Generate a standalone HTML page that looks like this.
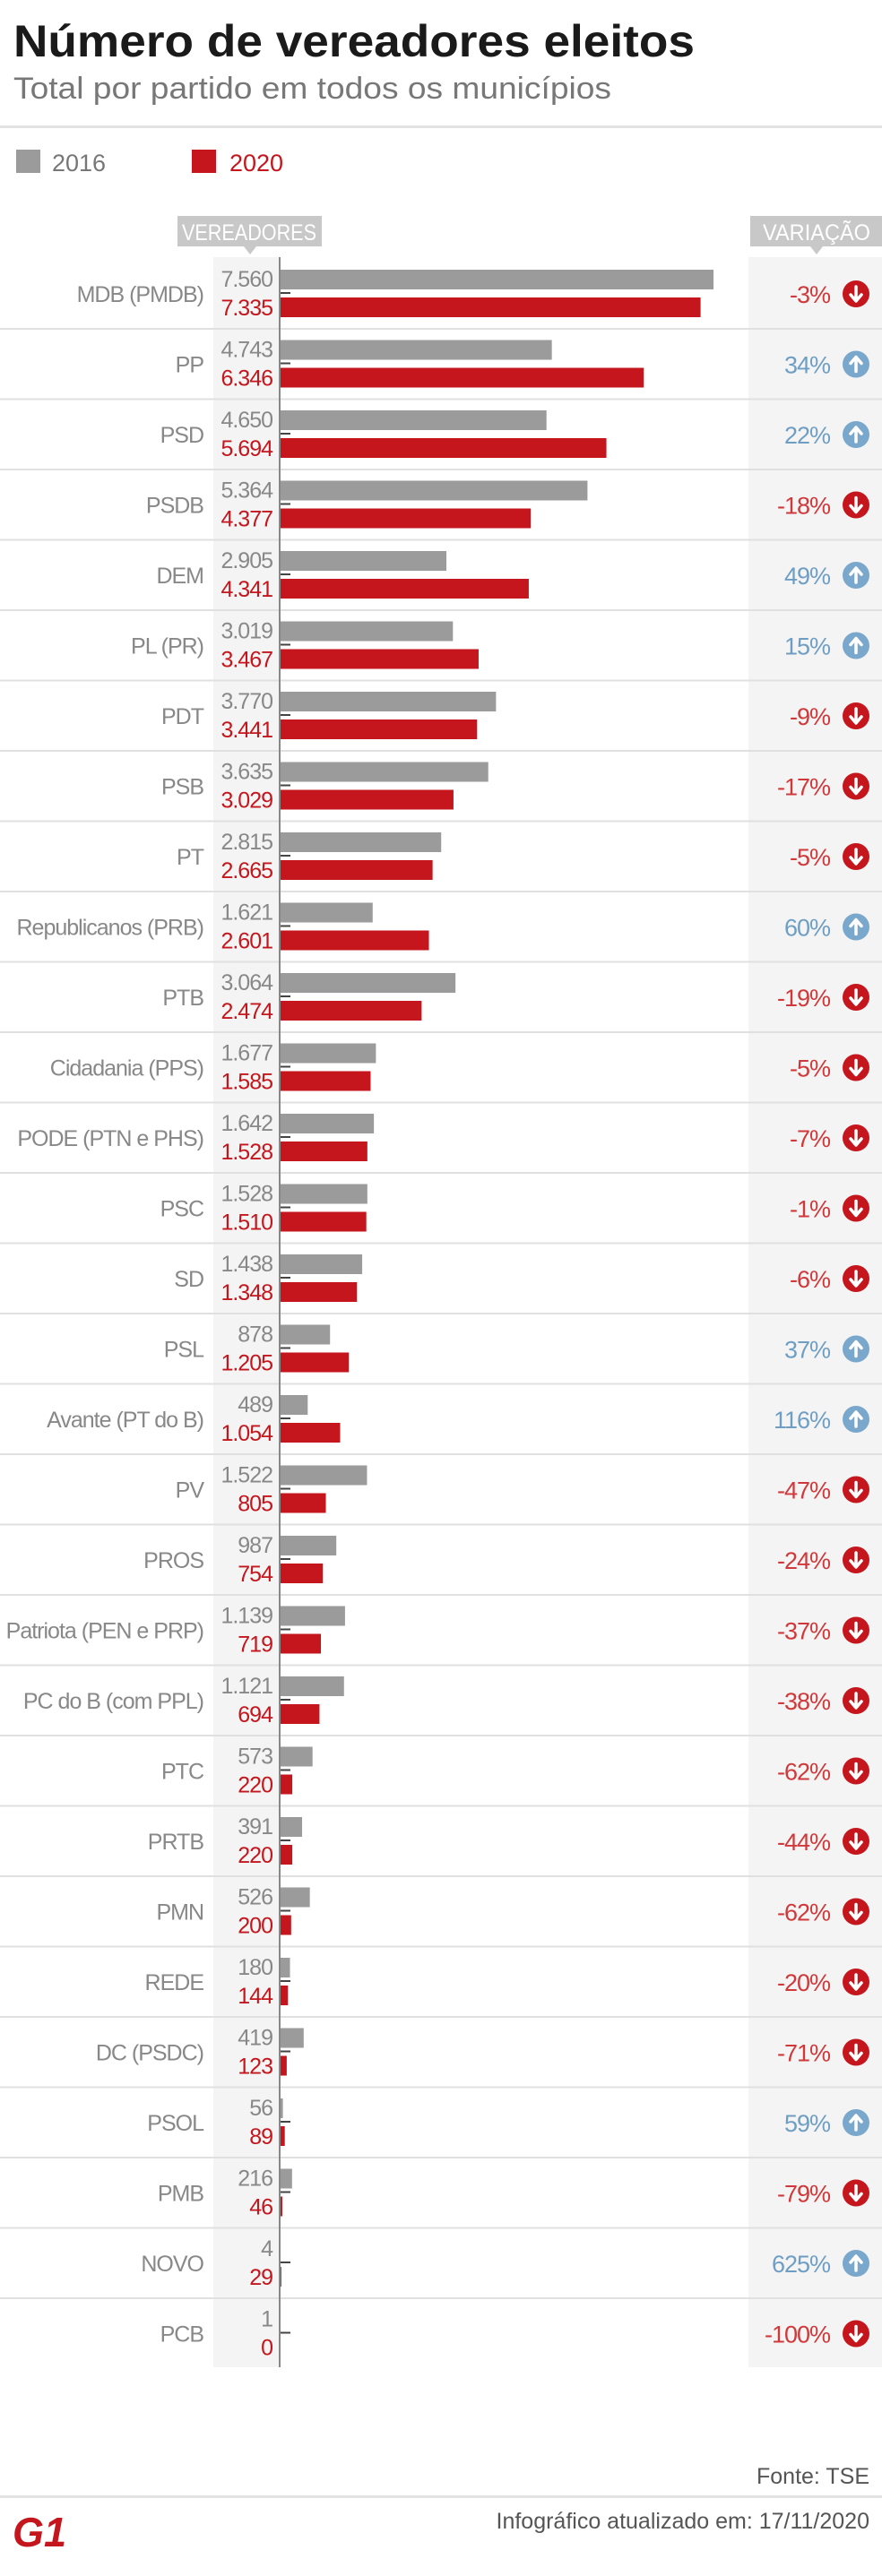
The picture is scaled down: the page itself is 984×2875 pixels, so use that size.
<!DOCTYPE html>
<html><head><meta charset="utf-8"><style>
html,body{margin:0;padding:0;background:#fff;}
svg{display:block;font-family:"Liberation Sans",sans-serif;}
</style></head><body>
<svg id="chart" width="984" height="2875" viewBox="0 0 984 2875" xmlns="http://www.w3.org/2000/svg">
<text x="15" y="63" font-size="50" font-weight="bold" fill="#1a1a1a" textLength="760" lengthAdjust="spacingAndGlyphs">Número de vereadores eleitos</text>
<text x="15" y="110" font-size="34" fill="#777" textLength="667" lengthAdjust="spacingAndGlyphs">Total por partido em todos os municípios</text>
<rect x="0" y="140" width="984" height="3" fill="#e3e3e3"/>
<rect x="18" y="167" width="27" height="26" fill="#9b9b9b"/>
<text x="58" y="191" font-size="27" fill="#777">2016</text>
<rect x="214" y="167" width="27" height="26" fill="#c4161c"/>
<text x="256" y="191" font-size="27" fill="#c4161c">2020</text>
<g>
<rect x="198" y="241" width="161" height="34" fill="#c8c8c8"/>
<polygon points="272,275 286,275 279,284" fill="#c8c8c8"/>
<text x="278" y="268" font-size="25" fill="#fff" text-anchor="middle" textLength="150" lengthAdjust="spacingAndGlyphs">VEREADORES</text>
</g>
<g>
<rect x="837" y="241" width="147" height="34" fill="#c8c8c8"/>
<polygon points="904,275 918,275 911,284" fill="#c8c8c8"/>
<text x="911" y="268" font-size="25" fill="#fff" text-anchor="middle" textLength="120" lengthAdjust="spacingAndGlyphs">VARIAÇÃO</text>
</g>
<g id="rows"></g>
<text x="970" y="2772" font-size="25" fill="#555" text-anchor="end">Fonte: TSE</text>
<rect x="0" y="2785" width="984" height="3" fill="#e3e3e3"/>
<text x="970" y="2822" font-size="25" fill="#555" text-anchor="end">Infográfico atualizado em: 17/11/2020</text>
<g>
<text x="14" y="2842" font-size="46" font-weight="bold" fill="#c4161c" font-style="italic" textLength="60" lengthAdjust="spacingAndGlyphs">G1</text>
</g>
</svg>
<script>
const parties = ["MDB (PMDB)","PP","PSD","PSDB","DEM","PL (PR)","PDT","PSB","PT","Republicanos (PRB)","PTB","Cidadania (PPS)","PODE (PTN e PHS)","PSC","SD","PSL","Avante (PT do B)","PV","PROS","Patriota (PEN e PRP)","PC do B (com PPL)","PTC","PRTB","PMN","REDE","DC (PSDC)","PSOL","PMB","NOVO","PCB"];
const values2016 = [7560,4743,4650,5364,2905,3019,3770,3635,2815,1621,3064,1677,1642,1528,1438,878,489,1522,987,1139,1121,573,391,526,180,419,56,216,4,1];
const values2020 = [7335,6346,5694,4377,4341,3467,3441,3029,2665,2601,2474,1585,1528,1510,1348,1205,1054,805,754,719,694,220,220,200,144,123,89,46,29,0];
const variation = [-3,34,22,-18,49,15,-9,-17,-5,60,-19,-5,-7,-1,-6,37,116,-47,-24,-37,-38,-62,-44,-62,-20,-71,59,-79,625,-100];

const NS="http://www.w3.org/2000/svg";
const AX=312, PXPER=484/7560, ROW0=289, ROWH=78.5;
const xScale=v=>v*PXPER;
const rowY=i=>ROW0+i*ROWH;
const fmt=v=>v>=1000?Math.floor(v/1000)+"."+String(v%1000).padStart(3,"0"):String(v);
const g=document.getElementById("rows");
function mk(tag,attrs,txt){const e=document.createElementNS(NS,tag);for(const k in attrs)e.setAttribute(k,attrs[k]);if(txt!==undefined)e.textContent=txt;g.appendChild(e);return e;}
let bandH=parties.length*ROWH;
let b1=mk("rect",{x:238,y:ROW0-2,width:74,height:bandH,fill:"#f4f4f4"});


let b2=mk("rect",{x:835,y:ROW0-2,width:149,height:bandH,fill:"#f4f4f4"});


parties.forEach((p,i)=>{
  const y=rowY(i);
  const mid=y+39;
  if(i<parties.length-1){
    const s=mk("rect",{x:0,y:y+77,width:984,height:2,fill:"#e0e0e0"});
    
    
  }
  const lab=mk("text",{x:227,y:mid+9,"font-size":25,fill:"#888","text-anchor":"end","letter-spacing":"-1"},p);
  
  
  const v1=mk("text",{x:304,y:y+31,"font-size":25,fill:"#888","text-anchor":"end","letter-spacing":"-1"},fmt(values2016[i]));
  
  
  const v2=mk("text",{x:304,y:y+63,"font-size":25,fill:"#c4161c","text-anchor":"end","letter-spacing":"-1"},fmt(values2020[i]));
  
  
  const r1=mk("rect",{x:AX,y:y+12,width:Math.max(xScale(values2016[i]),0),height:22,fill:"#9b9b9b"});
  
  
  const r2=mk("rect",{x:AX,y:y+43,width:Math.max(xScale(values2020[i]),0),height:22,fill:"#c4161c"});
  
  
  const t=mk("rect",{x:AX,y:mid-2,width:12,height:2,fill:"#444"});
  
  
  const up=variation[i]>=0;
  const col=up?"#6f9ec4":"#d0383a";
  const vt=mk("text",{x:926,y:mid+10,"font-size":27,fill:col,"text-anchor":"end","letter-spacing":"-1"},variation[i]+"%");
  
  
  const c=mk("circle",{cx:955,cy:mid,r:15,fill:up?"#7aa7cc":"#c4161c"});
  
  
  const d=up?`M955 ${mid+8} V${mid-7} M949 ${mid-1} L955 ${mid-8} L961 ${mid-1}`:`M955 ${mid-8} V${mid+7} M949 ${mid+1} L955 ${mid+8} L961 ${mid+1}`;
  const a=mk("path",{d:d,stroke:"#fff","stroke-width":3.5,fill:"none","stroke-linecap":"round","stroke-linejoin":"round"});
  
  
});
const ax=mk("rect",{x:AX-1,y:ROW0-2,width:2,height:bandH,fill:"#888"});


</script>
</body></html>
